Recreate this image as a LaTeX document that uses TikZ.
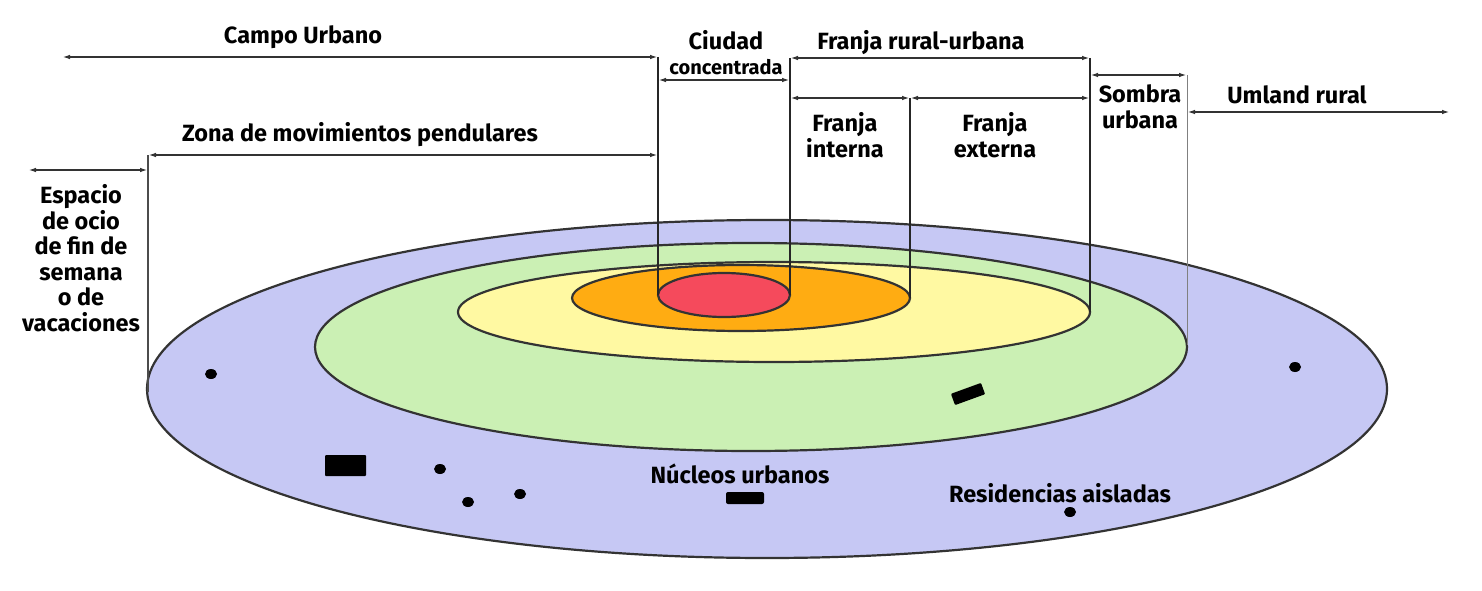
\documentclass[tikz,border=0pt]{standalone}
\usepackage{fontspec}
\setmainfont{Fira Sans}
\usepackage{xcolor}
\usetikzlibrary{arrows.meta}
\usetikzlibrary{positioning}

\definecolor{umland}{HTML}{C6C8F4}
\definecolor{sombra}{HTML}{CBF0B4}
\definecolor{franja}{HTML}{FFF9A2}
\definecolor{interna}{HTML}{FFAC12}
\definecolor{ciudad}{HTML}{F54A5C}

\begin{document}
\begin{tikzpicture}[x=1pt,y=-1pt,
  zone/.style={draw=black!80,line width=2.2pt},
  span/.style={{Latex[length=8pt,width=4.5pt]}-{Latex[length=8pt,width=4.5pt]},line width=1.6pt,black!80},
  riser/.style={line width=1.3pt,black!85},
  lbl/.style={font=\fontsize{23.5}{25.5}\selectfont\bfseries,align=center,inner sep=0pt},
  small/.style={font=\fontsize{20}{22}\selectfont\bfseries,inner sep=0pt}]
\useasboundingbox (0,0) rectangle (1482,591);

% rings
\draw[zone,fill=umland]  (767,389) ellipse [x radius=620,y radius=169];
\draw[zone,fill=sombra]  (751,347) ellipse [x radius=436,y radius=104];
\draw[zone,fill=franja]  (774,312) ellipse [x radius=316,y radius=50];
\draw[zone,fill=interna] (741,298) ellipse [x radius=169,y radius=33];
\draw[zone,fill=ciudad]  (724,295) ellipse [x radius=66,y radius=22];

% settlements
\fill (211,374) ellipse [x radius=6,y radius=5];
\fill (1295,367) ellipse [x radius=6,y radius=5];
\fill (440,469) ellipse [x radius=6,y radius=5];
\fill (468,502) ellipse [x radius=6,y radius=5];
\fill (520,494) ellipse [x radius=6,y radius=5];
\fill (1070,512) ellipse [x radius=6,y radius=5];
\fill[rounded corners=1pt] (325,455) rectangle (366,476);
\fill[rounded corners=2pt] (726,492) rectangle (764,504);
\fill[rotate around={20:(968,394)},rounded corners=1pt] (952,388) rectangle (984,400);

% anchor points
\coordinate (cu-l) at (62,57);    \coordinate (cu-r) at (658,57);
\coordinate (cc-l) at (658,80);   \coordinate (cc-r) at (790,80);
\coordinate (fr-l) at (790,58);   \coordinate (fr-r) at (1090,58);
\coordinate (fi-l) at (790,98);   \coordinate (fi-r) at (910,98);
\coordinate (fe-l) at (910,98);   \coordinate (fe-r) at (1090,98);
\coordinate (su-l) at (1090,75);  \coordinate (su-r) at (1187,75);
\coordinate (ur-l) at (1187,112); \coordinate (ur-r) at (1450,112);
\coordinate (zm-l) at (148,155);  \coordinate (zm-r) at (658,155);
\coordinate (eo-l) at (28,170);   \coordinate (eo-r) at (148,170);
\coordinate (red-l) at (658,295); \coordinate (red-r) at (790,295);
\coordinate (ora-r) at (910,298); \coordinate (yel-r) at (1090,312);
\coordinate (gre-r) at (1187,345);\coordinate (blu-l) at (148,392);

% risers
\draw[riser] (cu-r) -- (red-l);
\draw[riser] (fr-l) -- (red-r);
\draw[riser] (fi-r) -- (ora-r);
\draw[riser] (fr-r) -- (yel-r);
\draw[riser,black!50,line width=1pt] (su-r) -- (gre-r);
\draw[riser,black!70] (zm-l) -- (blu-l);

% spans
\draw[span] (cu-l) -- (cu-r);
\draw[span] (cc-l) -- (cc-r);
\draw[span] (fr-l) -- (fr-r);
\draw[span] (fi-l) -- (fi-r);
\draw[span] (fe-l) -- (fe-r);
\draw[span] (su-l) -- (su-r);
\draw[span] (ur-l) -- (ur-r);
\draw[span] (zm-l) -- (zm-r);
\draw[span] (eo-l) -- (eo-r);

% labels
\node[lbl] (campo) at (303,37) {Campo Urbano};
\node[lbl] (ciudad) at (726,40) {Ciudad};
\node[small] (conc) at (726,67) {concentrada};
\node[lbl] (rural) at (921,43) {Franja rural-urbana};
\node[lbl] (fint) at (845,135) {Franja\\interna};
\node[lbl] (fext) at (995,135) {Franja\\externa};
\node[lbl] (sombra) at (1140,107) {Sombra\\urbana};
\node[lbl] (umland) at (1297,95) {Umland rural};
\node[lbl] (zona) at (360,135) {Zona de movimientos pendulares};
\node[lbl] (ocio) at (81,258) {Espacio\\de ocio\\de fin de\\semana\\o de\\vacaciones};
\node[lbl] (nucleos) at (740,474) {Núcleos urbanos};
\node[lbl] (resid) at (1060,493) {Residencias aisladas};
\end{tikzpicture}
\end{document}
